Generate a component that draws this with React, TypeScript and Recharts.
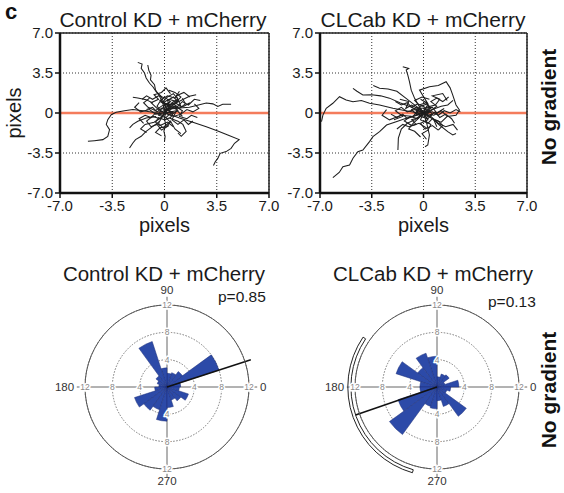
import React from 'react';
import {
  ScatterChart,
  Scatter,
  XAxis,
  YAxis,
  CartesianGrid,
  ReferenceLine,
  RadarChart,
  Radar,
  PolarGrid,
  PolarAngleAxis,
  PolarRadiusAxis,
  Sector,
} from 'recharts';

type Pt = [number, number];

const FONT = '"Liberation Sans", Arial, Helvetica, sans-serif';

// axis ticks of the track plots (pixels)
const axisTicks = [-7, -3.5, 0, 3.5, 7];

// rose diagram: 20 bins of 18 degrees, bin centres
const binCenters = [9, 27, 45, 63, 81, 99, 117, 135, 153, 171, 189, 207, 225, 243, 261, 279, 297, 315, 333, 351];
const roseTicks = [4, 8, 12];
const roseAxisAngles = [0, 90, 180, 270];

// counts per bin
const controlRose = [2.0, 8.0, 2.8, 2.2, 2.0, 2.8, 7.0, 2.0, 1.5, 1.2, 1.8, 5.0, 4.2, 3.5, 5.0, 3.0, 2.0, 2.5, 3.3, 1.8];
const clcabRose = [3.2, 1.2, 2.2, 2.0, 1.5, 4.5, 5.2, 3.5, 6.3, 2.5, 2.5, 6.0, 8.6, 3.0, 3.2, 2.0, 3.0, 5.3, 1.5, 2.0];

// mean direction (deg) and its drawn length (counts)
const controlMean = { angle: 18, len: 12.9 };
const clcabMean = { angle: 199, len: 12.6 };
// confidence arc for CLCab (deg)
const clcabArc = { from: 146, to: 254 };

// cell trajectories, Control KD + mCherry
const controlTracks: Pt[][] = [
  [[0, 0.73], [-0.22, 1.46], [-0.56, 1.87], [-0.78, 2.3], [-1.0, 2.6], [-1.23, 3.06], [-1.34, 3.5], [-1.56, 3.9], [-1.5, 4.28], [-1.79, 4.43]],
  [[0, 0.1], [-0.11, 0.87], [-0.33, 1.46], [-0.6, 2.0], [-0.67, 2.48], [-0.94, 2.9], [-0.9, 3.3], [-1.05, 3.73], [-1.12, 4.2]],
  [[0.1, 0.3], [1.0, 0.44], [1.67, 0.5], [2.34, 0.73], [2.8, 0.87], [3.24, 0.8], [3.57, 0.58], [3.9, 0.76], [4.46, 0.76]],
  [[0.1, 0], [1.0, -0.44], [1.9, -0.8], [2.8, -1.2], [3.57, -1.57], [4.24, -1.92], [5.0, -2.33], [4.69, -2.65], [4.46, -3.09], [4.13, -3.38], [3.73, -3.53], [3.57, -3.97], [3.4, -4.26], [3.28, -4.6]],
  [[-0.1, 0.1], [-0.78, 0.06], [-1.45, 0.2], [-2.12, 0.3], [-2.68, 0.2], [-3.24, 0.06], [-3.57, -0.15], [-3.8, -0.58], [-3.9, -1.0], [-3.68, -1.46], [-3.8, -2.04], [-4.13, -2.33], [-4.69, -2.42], [-5.13, -2.48]],
  [[-0.33, -0.73], [-0.78, -1.17], [-1.23, -1.6], [-1.56, -2.04], [-1.94, -2.33], [-2.12, -2.62], [-2.34, -3.06]],
  [[0, -0.44], [0.07, -1.0], [-0.04, -1.6], [0.04, -2.04], [0, -2.48]],
  [[0.33, -0.44], [0.9, -0.73], [1.23, -1.0], [1.45, -1.6], [1.12, -2.04], [0.9, -1.75]],
  [[-0.78, 0.87], [-1.23, 1.17], [-1.79, 1.31], [-2.12, 1.37]],
  [[0.33, 0.73], [1.0, 1.02], [1.67, 1.46], [2.12, 1.6]],
  [[-0.56, -0.3], [-1.23, -0.44], [-1.79, -0.73], [-2.12, -1.0], [-2.34, -1.3]],
  [[0, 0], [0.4, 0.5], [0.2, 1.1], [0.6, 1.4], [0.9, 1.0], [0.5, 0.6], [1.0, 0.4], [1.4, 0.8], [1.2, 1.3]],
  [[0, 0], [-0.5, 0.4], [-0.9, 0.9], [-0.4, 1.2], [-0.7, 1.6], [-0.2, 1.8], [0.1, 2.2], [0.4, 1.7]],
  [[0, 0], [0.6, -0.3], [1.1, -0.1], [1.5, 0.3], [1.9, 0.1], [2.3, 0.4], [2.0, 0.8]],
  [[0, 0], [-0.3, -0.5], [-0.8, -0.3], [-1.2, -0.7], [-0.9, -1.2], [-0.5, -1.0], [-0.2, -1.5], [0.3, -1.1]],
  [[0, 0], [0.3, 0.9], [-0.2, 0.6], [-0.6, 0.2], [-1.1, 0.5], [-1.4, 0.9], [-1.0, 1.3]],
  [[0, 0], [0.8, 0.2], [0.5, -0.6], [0.9, -1.0], [1.3, -0.6], [1.6, -1.0], [1.9, -0.7]],
  [[0, 0], [-0.4, -0.9], [-0.1, -1.3], [0.4, -0.7], [0.7, -1.4], [1.1, -1.8]],
  [[0, 0], [0.2, 0.3], [0.7, 0.9], [1.1, 0.6], [0.8, 1.5], [1.3, 1.8], [1.7, 1.4]],
  [[0, 0], [-0.6, -0.1], [-1.0, 0.3], [-1.6, 0.1], [-2.0, 0.5], [-1.7, 0.9]],
  [[0, 0], [0.5, 0.1], [0.1, -0.4], [-0.4, -0.2], [-0.2, 0.4], [0.3, 0.7], [0.8, 0.3], [1.2, -0.3]],
  [[0, 0], [0.1, 0.8], [-0.3, 1.1], [0.2, 1.5], [0.7, 1.3], [1.0, 1.9]],
  [[0, 0], [-0.2, -0.4], [-0.7, -0.8], [-1.3, -1.0], [-1.6, -1.4], [-1.2, -1.7]],
  [[0.2, 0.3], [0.5, 0.9], [0.9, 1.2], [0.6, 1.7], [0.2, 1.4], [-0.1, 1.0], [0.3, 0.6]],
  [[0.2, 0.3], [-0.2, 0.1], [-0.5, 0.6], [-0.3, 1.0], [0.1, 0.7], [0.6, 0.8], [0.9, 0.5], [1.3, 0.6], [1.7, 0.9]],
  [[0.2, 0.3], [0.6, 0.0], [0.4, -0.4], [0.0, -0.6], [-0.4, -0.4], [-0.6, -0.8], [-0.3, -1.1], [0.2, -0.8], [0.6, -1.2]],
  [[0.2, 0.3], [0.0, 0.7], [0.4, 1.0], [0.1, 1.3], [-0.4, 1.5], [-0.8, 1.2], [-1.2, 1.5], [-1.5, 1.2]],
  [[0.2, 0.3], [0.7, 0.6], [1.2, 0.2], [1.0, -0.3], [1.5, -0.5], [1.8, -0.2], [2.2, -0.4]],
  [[0.2, 0.3], [-0.1, -0.2], [-0.6, 0.0], [-0.9, -0.4], [-1.3, -0.2], [-1.7, -0.5], [-1.4, -0.9]],
  [[0.2, 0.3], [0.3, 0.7], [-0.1, 0.9], [0.3, 1.2], [0.8, 1.0], [1.1, 1.4], [0.7, 1.8], [0.3, 2.0]],
  [[0.2, 0.3], [0.5, -0.1], [0.9, 0.2], [0.7, 0.6], [0.3, 0.2], [-0.2, 0.4], [-0.5, 0.1], [-0.8, 0.5], [-1.2, 0.3]],
  [[0.2, 0.3], [0.0, -0.3], [0.4, -0.8], [0.1, -1.2], [-0.3, -1.3], [-0.6, -1.7], [-0.2, -2.0]],
  [[0.2, 0.3], [0.8, 0.5], [1.2, 1.0], [1.6, 0.7], [2.0, 1.2], [2.4, 1.1]],
];

// cell trajectories, CLCab KD + mCherry
const clcabTracks: Pt[][] = [
  [[0, 0], [-0.5, -0.2], [-1.17, -0.47], [-1.85, -0.76], [-2.5, -1.05], [-2.97, -1.63], [-3.42, -2.07], [-3.65, -2.5], [-4.1, -3.24], [-4.44, -3.38], [-4.77, -3.96], [-5.0, -4.55], [-5.45, -4.7], [-5.7, -5.2], [-6.13, -5.66]],
  [[0, 0], [-0.5, 0.05], [-1.2, 0.2], [-2.07, 0.41], [-2.97, 0.7], [-3.65, 0.85], [-4.2, 1.1], [-4.77, 0.99], [-5.23, 1.14], [-5.68, 1.43], [-6.13, 0.85], [-6.58, 0.41], [-6.8, -0.17], [-6.9, -0.76]],
  [[0, 0], [-0.3, 0.6], [-0.6, 1.28], [-0.83, 2.0], [-0.95, 2.74], [-1.06, 3.32], [-1.17, 3.76], [-1.0, 3.9], [-1.4, 4.05]],
  [[0, 0], [-0.8, 0.5], [-1.6, 0.9], [-2.3, 1.3], [-2.9, 1.5], [-3.5, 1.6], [-4.1, 1.57], [-4.5, 1.9], [-4.77, 2.16]],
  [[0, 0], [-0.5, 0.6], [-1.2, 1.3], [-1.8, 1.9], [-2.4, 2.1], [-2.97, 2.16], [-3.4, 2.4]],
  [[0, 0], [0.3, 0.8], [-0.27, 2.0], [0.4, 2.3], [1.0, 2.4], [1.53, 2.74], [1.8, 2.2], [1.98, 1.57], [2.2, 0.7], [2.43, 0.26], [2.2, -0.2], [1.6, -0.3]],
  [[0, 0], [0.6, -0.5], [1.08, -1.05], [1.64, -1.63], [1.98, -1.92], [2.2, -1.8]],
  [[0, 0], [0.2, -0.8], [0.4, -1.92], [0.29, -2.8], [0.1, -2.95]],
  [[0, 0], [-0.6, -0.6], [-1.1, -0.9], [-1.5, -1.4], [-1.7, -2.2], [-1.73, -3.24]],
  [[0, 0], [0.6, 0.3], [1.2, 0.6], [1.64, 0.7], [2.0, 1.1]],
  [[0, 0], [-0.7, -0.3], [-1.5, -0.2], [-2.3, -0.6], [-2.8, -0.2], [-2.5, 0.3]],
  [[0, 0], [0.5, 0.4], [0.2, 0.9], [-0.3, 0.7], [-0.6, 1.1], [-0.1, 1.4], [0.4, 1.2]],
  [[0, 0], [-0.4, -0.5], [-0.9, -0.3], [-1.3, -0.7], [-0.8, -1.1], [-0.3, -0.9], [0.2, -1.3]],
  [[0, 0], [0.7, -0.2], [1.2, 0.2], [1.6, -0.3], [1.2, -0.8], [0.7, -0.6], [0.9, -1.2]],
  [[0, 0], [-0.6, 0.3], [-1.1, 0.1], [-1.5, 0.5], [-1.9, 0.2], [-1.4, -0.3], [-2.0, -0.6]],
  [[0, 0], [0.3, -0.6], [-0.2, -0.9], [0.1, -1.4], [0.6, -1.1], [1.0, -1.5]],
  [[0, 0], [0.2, 0.5], [0.8, 0.7], [1.1, 1.2], [0.6, 1.5], [1.3, 1.7], [1.6, 1.1]],
  [[0, 0], [-0.3, 0.3], [-0.8, 0.7], [-1.2, 0.4], [-1.0, 1.0], [-1.6, 1.2]],
  [[0, 0], [0.4, 0.1], [0.1, -0.3], [-0.5, -0.1], [-0.3, 0.4], [0.6, 0.5], [0.9, 0.0], [1.4, 0.4]],
  [[0, 0], [-0.2, -0.3], [-0.7, -0.9], [-1.0, -1.4], [-0.6, -1.6], [-0.2, -2.1]],
  [[0, 0], [0.5, -0.3], [1.0, -0.9], [1.5, -1.2], [2.0, -1.0], [2.3, -1.5]],
  [[0, 0], [0.3, 0.3], [0.6, -0.1], [0.3, -0.5], [-0.2, -0.3], [-0.5, 0.2], [-0.2, 0.6], [0.3, 0.8]],
  [[0, 0], [-0.4, 0.2], [-0.7, -0.3], [-1.1, -0.5], [-1.4, -0.1], [-1.8, -0.4], [-2.2, -0.1]],
  [[0, 0], [0.4, -0.3], [0.8, 0.1], [1.1, -0.4], [1.5, -0.1], [1.9, -0.5], [2.1, -0.9]],
  [[0, 0], [0.1, 0.5], [-0.4, 0.8], [-0.8, 0.5], [-1.1, 0.9], [-1.5, 0.7], [-1.9, 1.0]],
  [[0, 0], [-0.2, -0.6], [0.3, -0.9], [0.6, -0.5], [1.0, -0.7], [1.3, -1.1], [1.0, -1.5]],
  [[0, 0], [0.5, 0.2], [0.9, 0.6], [0.5, 1.0], [0.9, 1.3], [1.3, 1.0], [1.7, 1.4]],
  [[0, 0], [-0.5, -0.1], [-0.8, 0.3], [-0.4, 0.5], [-0.1, 0.2], [0.4, 0.4], [0.2, 0.9], [-0.2, 1.2]],
  [[0, 0], [-0.3, -0.4], [-0.8, -0.6], [-0.5, -1.0], [-1.0, -1.2], [-1.4, -1.0], [-1.8, -1.4]],
  [[0, 0], [0.3, -0.2], [0.1, -0.7], [0.5, -1.0], [0.3, -1.5], [-0.1, -1.8], [0.2, -2.3]],
  [[0, 0], [0.6, 0.1], [1.0, -0.2], [1.4, 0.2], [1.8, 0.0], [2.2, 0.3], [2.5, 0.1]],
];

const fmtTick = (v: number) => (v === 0 ? '0' : v.toFixed(1));
const noDot = () => <g />;

interface TrackPanelProps {
  tracks: Pt[][];
  left: number;
  yAxisWidth: number;
  marginRight: number;
  showYLabel: boolean;
}

const TrackPanel: React.FC<TrackPanelProps> = ({ tracks, left, yAxisWidth, marginRight, showYLabel }) => {
  const tickStyle = { fill: '#1a1a1a', fontSize: 15 };
  return (
    <div style={{ position: 'absolute', left, top: 0 }}>
      <ScatterChart width={280} height={240} margin={{ top: 33, right: marginRight, bottom: 0, left: 0 }}>
        <CartesianGrid stroke="#333" strokeDasharray="1 2" />
        <XAxis
          type="number"
          dataKey="x"
          domain={[-7, 7]}
          ticks={axisTicks}
          tickFormatter={fmtTick}
          allowDataOverflow
          height={47}
          axisLine={{ stroke: '#111', strokeWidth: 2.5 }}
          tickLine={{ stroke: '#111', strokeWidth: 1.5 }}
          tickSize={5}
          tick={tickStyle}
          label={{ value: 'pixels', position: 'insideBottom', offset: 8, fontSize: 20, fill: '#1a1a1a' }}
        />
        <YAxis
          type="number"
          dataKey="y"
          domain={[-7, 7]}
          ticks={axisTicks}
          tickFormatter={fmtTick}
          allowDataOverflow
          width={yAxisWidth}
          axisLine={{ stroke: '#111', strokeWidth: 2.5 }}
          tickLine={{ stroke: '#111', strokeWidth: 1.5 }}
          tickSize={5}
          tick={tickStyle}
          label={
            showYLabel
              ? { value: 'pixels', angle: -90, position: 'insideLeft', offset: 14, fontSize: 20, fill: '#1a1a1a', style: { textAnchor: 'middle' } }
              : undefined
          }
        />
        {tracks.map((t, i) => (
          <Scatter
            key={i}
            data={t.map(([x, y]) => ({ x, y }))}
            fill="#1e1e1e"
            line={{ stroke: '#1e1e1e', strokeWidth: 1.05 }}
            lineJointType="linear"
            shape={noDot}
            isAnimationActive={false}
          />
        ))}
        <ReferenceLine y={0} stroke="#f47c5c" strokeWidth={2.5} />
        <ReferenceLine x={7} stroke="#222" strokeWidth={1.5} />
        <ReferenceLine y={7} stroke="#222" strokeWidth={1.5} />
      </ScatterChart>
    </div>
  );
};

const RoseTick = (props: any) => {
  const { x, y, payload } = props;
  return (
    <text
      x={x}
      y={y}
      textAnchor="middle"
      dominantBaseline="central"
      fontSize={8.5}
      fill="#888"
      stroke="#fff"
      strokeWidth={3}
      paintOrder="stroke"
    >
      {payload.value}
    </text>
  );
};

const RoseShape = (props: any) => {
  const { points, mean, arc } = props;
  if (!points || points.length < 2) return <g />;
  const cx = points[0].cx;
  const cy = points[0].cy;
  const ref = points.find((p: any) => p.value > 0);
  const unit = ref.radius / ref.value;
  const half = Math.abs(points[1].angle - points[0].angle) / 2;
  const at = (deg: number, r: number) => ({
    x: cx + r * unit * Math.cos((-deg * Math.PI) / 180),
    y: cy + r * unit * Math.sin((-deg * Math.PI) / 180),
  });
  const crossR = 13.2;
  const labR = 13.6;
  const m = at(mean.angle, mean.len);
  return (
    <g>
      {roseAxisAngles.map((a) => {
        const e = at(a, crossR);
        return <line key={a} x1={cx} y1={cy} x2={e.x} y2={e.y} stroke="#666" strokeWidth={1} />;
      })}
      {points.map((p: any, i: number) => (
        <Sector
          key={i}
          cx={cx}
          cy={cy}
          innerRadius={0}
          outerRadius={p.radius}
          startAngle={p.angle - half}
          endAngle={p.angle + half}
          fill="#2c4aa8"
          stroke="#1c2f78"
          strokeWidth={0.5}
        />
      ))}
      <line x1={cx} y1={cy} x2={m.x} y2={m.y} stroke="#111" strokeWidth={1.5} />
      {arc && (
        <Sector
          cx={cx}
          cy={cy}
          innerRadius={12.6 * unit}
          outerRadius={13.05 * unit}
          startAngle={arc.from}
          endAngle={arc.to}
          fill="none"
          stroke="#222"
          strokeWidth={1}
        />
      )}
      <text x={at(0, labR).x} y={cy} textAnchor="start" dominantBaseline="central" fontSize={11.5} fill="#333">0</text>
      <text x={at(180, labR).x} y={cy} textAnchor="end" dominantBaseline="central" fontSize={11.5} fill="#333">180</text>
      <text x={cx} y={at(90, labR).y} textAnchor="middle" fontSize={11.5} fill="#333">90</text>
      <text x={cx} y={at(270, 13.1).y} textAnchor="middle" dominantBaseline="hanging" fontSize={11.5} fill="#333">270</text>
    </g>
  );
};

interface RoseProps {
  counts: number[];
  left: number;
  mean: { angle: number; len: number };
  arc?: { from: number; to: number };
}

const RosePanel: React.FC<RoseProps> = ({ counts, left, mean, arc }) => {
  const data = binCenters.map((deg, i) => ({ deg, n: counts[i] }));
  return (
    <div style={{ position: 'absolute', left, top: 272 }}>
      <RadarChart
        width={260}
        height={230}
        data={data}
        outerRadius={82}
        startAngle={-9}
        endAngle={351}
        margin={{ top: 0, right: 0, bottom: 0, left: 0 }}
      >
        <PolarGrid gridType="circle" radialLines={false} stroke="#777" strokeDasharray="1.5 1.5" />
        <PolarAngleAxis dataKey="deg" tick={false} tickLine={false} axisLine={{ stroke: '#555' }} axisLineType="circle" />
        <Radar dataKey="n" isAnimationActive={false} shape={(p: any) => <RoseShape {...p} mean={mean} arc={arc} />} />
        {roseAxisAngles.slice(1).map((a) => (
          <Radar key={a} radiusAxisId={`r${a}`} dataKey="n" isAnimationActive={false} shape={noDot} />
        ))}
        <PolarRadiusAxis angle={0} domain={[0, 12]} ticks={roseTicks} axisLine={false} tickLine={false} tick={RoseTick} />
        {roseAxisAngles.slice(1).map((a) => (
          <PolarRadiusAxis
            key={a}
            radiusAxisId={`r${a}`}
            angle={a}
            domain={[0, 12]}
            ticks={roseTicks}
            axisLine={false}
            tickLine={false}
            tick={RoseTick}
          />
        ))}
      </RadarChart>
    </div>
  );
};

export default function App() {
  return (
    <div
      style={{
        position: 'absolute',
        left: 0,
        top: 0,
        width: 564,
        height: 493,
        background: '#fff',
        fontFamily: FONT,
        overflow: 'hidden',
      }}
    >
      <TrackPanel tracks={controlTracks} left={0} yAxisWidth={60} marginRight={11} showYLabel />
      <TrackPanel tracks={clcabTracks} left={265} yAxisWidth={55} marginRight={18} showYLabel={false} />
      <RosePanel counts={controlRose} left={37} mean={controlMean} />
      <RosePanel counts={clcabRose} left={307} mean={clcabMean} arc={clcabArc} />
      <svg width={564} height={493} style={{ position: 'absolute', left: 0, top: 0, pointerEvents: 'none' }} fontFamily={FONT}>
        <text x={5} y={19} fontSize={22} fontWeight="bold" fill="#111">c</text>
        <text x={163} y={27} fontSize={21} textAnchor="middle" fill="#1a1a1a">Control KD + mCherry</text>
        <text x={423} y={27} fontSize={21} textAnchor="middle" fill="#1a1a1a">CLCab KD + mCherry</text>
        <text x={548} y={107} fontSize={21} fontWeight="bold" textAnchor="middle" dominantBaseline="central" transform="rotate(-90 548 107)" fill="#111">No gradient</text>
        <text x={164} y={281} fontSize={20.5} textAnchor="middle" fill="#1a1a1a">Control KD + mCherry</text>
        <text x={433} y={281} fontSize={20.5} textAnchor="middle" fill="#1a1a1a">CLCab KD + mCherry</text>
        <text x={218} y={302} fontSize={15.5} fill="#1a1a1a">p=0.85</text>
        <text x={488} y={307} fontSize={15.5} fill="#1a1a1a">p=0.13</text>
        <text x={548} y={390} fontSize={21} fontWeight="bold" textAnchor="middle" dominantBaseline="central" transform="rotate(-90 548 390)" fill="#111">No gradient</text>
      </svg>
    </div>
  );
}
